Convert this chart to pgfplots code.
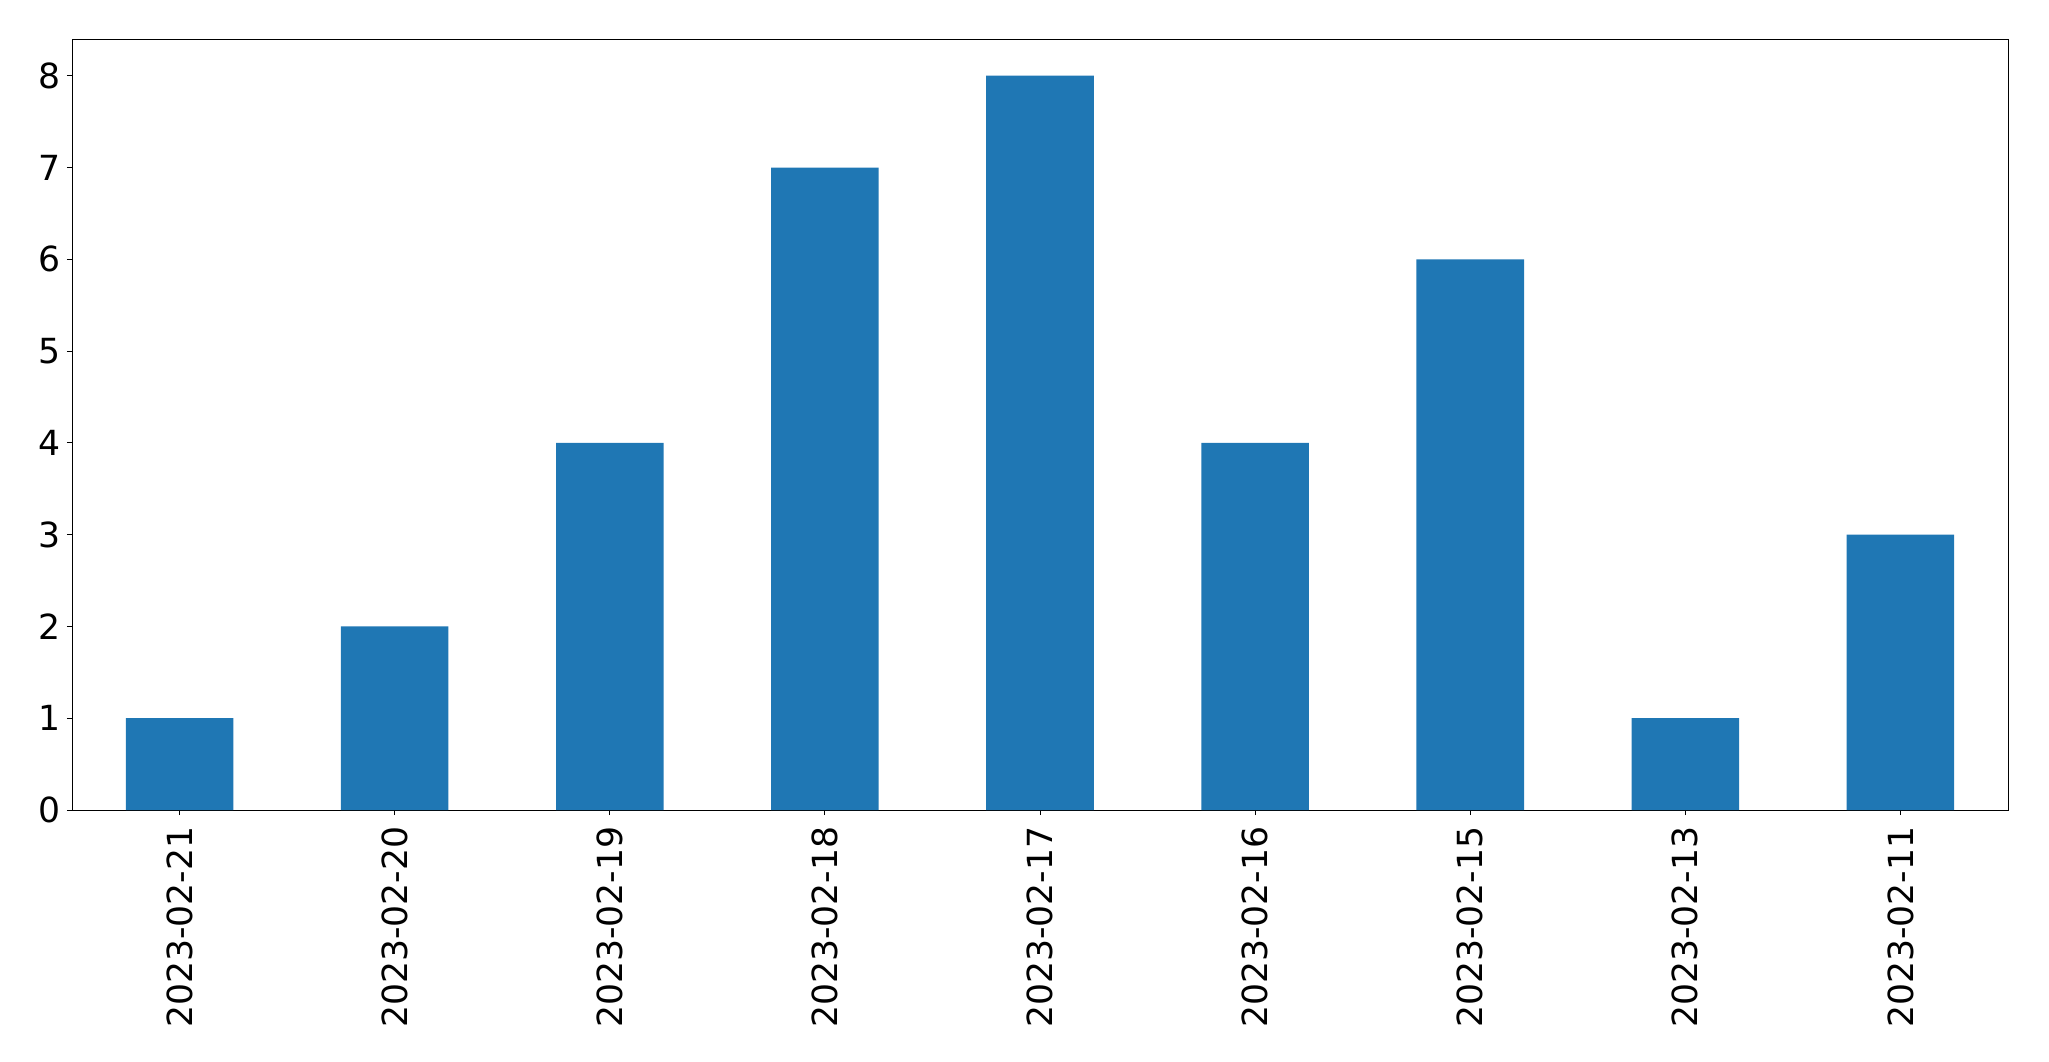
\documentclass[border=0pt]{standalone}
\usepackage{pgfplots}
\pgfplotsset{compat=1.18}
\usepackage{fontspec}
\setmainfont{DejaVu Sans}
\definecolor{mplblue}{HTML}{1F77B4}
\begin{document}
\begin{tikzpicture}
\useasboundingbox (-36pt,-125.5pt) rectangle (988.5pt,405pt);
\begin{axis}[
  at={(0,0)}, anchor=south west,
  scale only axis,
  width=968pt, height=385.5pt,
  xmin=-0.5, xmax=8.5, ymin=0, ymax=8.4,
  xtick={0,1,2,3,4,5,6,7,8},
  xticklabels={2023-02-21,2023-02-20,2023-02-19,2023-02-18,2023-02-17,2023-02-16,2023-02-15,2023-02-13,2023-02-11},
  ytick={0,1,2,3,4,5,6,7,8},
  tick align=outside,
  major tick length=2.6pt,
  tick style={black, line width=0.4pt},
  xtick pos=bottom, ytick pos=left,
  axis line style={black, line width=0.4pt},
  /pgf/number format/assume math mode=true,
  ticklabel style={font=\fontsize{17.3}{20}\selectfont},
  xticklabel style={rotate=90, anchor=east, inner sep=0pt, xshift=-5.5pt},
  yticklabel style={anchor=east, inner sep=0pt, xshift=-3pt},
]
\addplot[ybar, bar width=0.5, fill=mplblue, draw=none, bar shift=0pt]
  coordinates {(0,1) (1,2) (2,4) (3,7) (4,8) (5,4) (6,6) (7,1) (8,3)};
\end{axis}
\end{tikzpicture}
\end{document}
